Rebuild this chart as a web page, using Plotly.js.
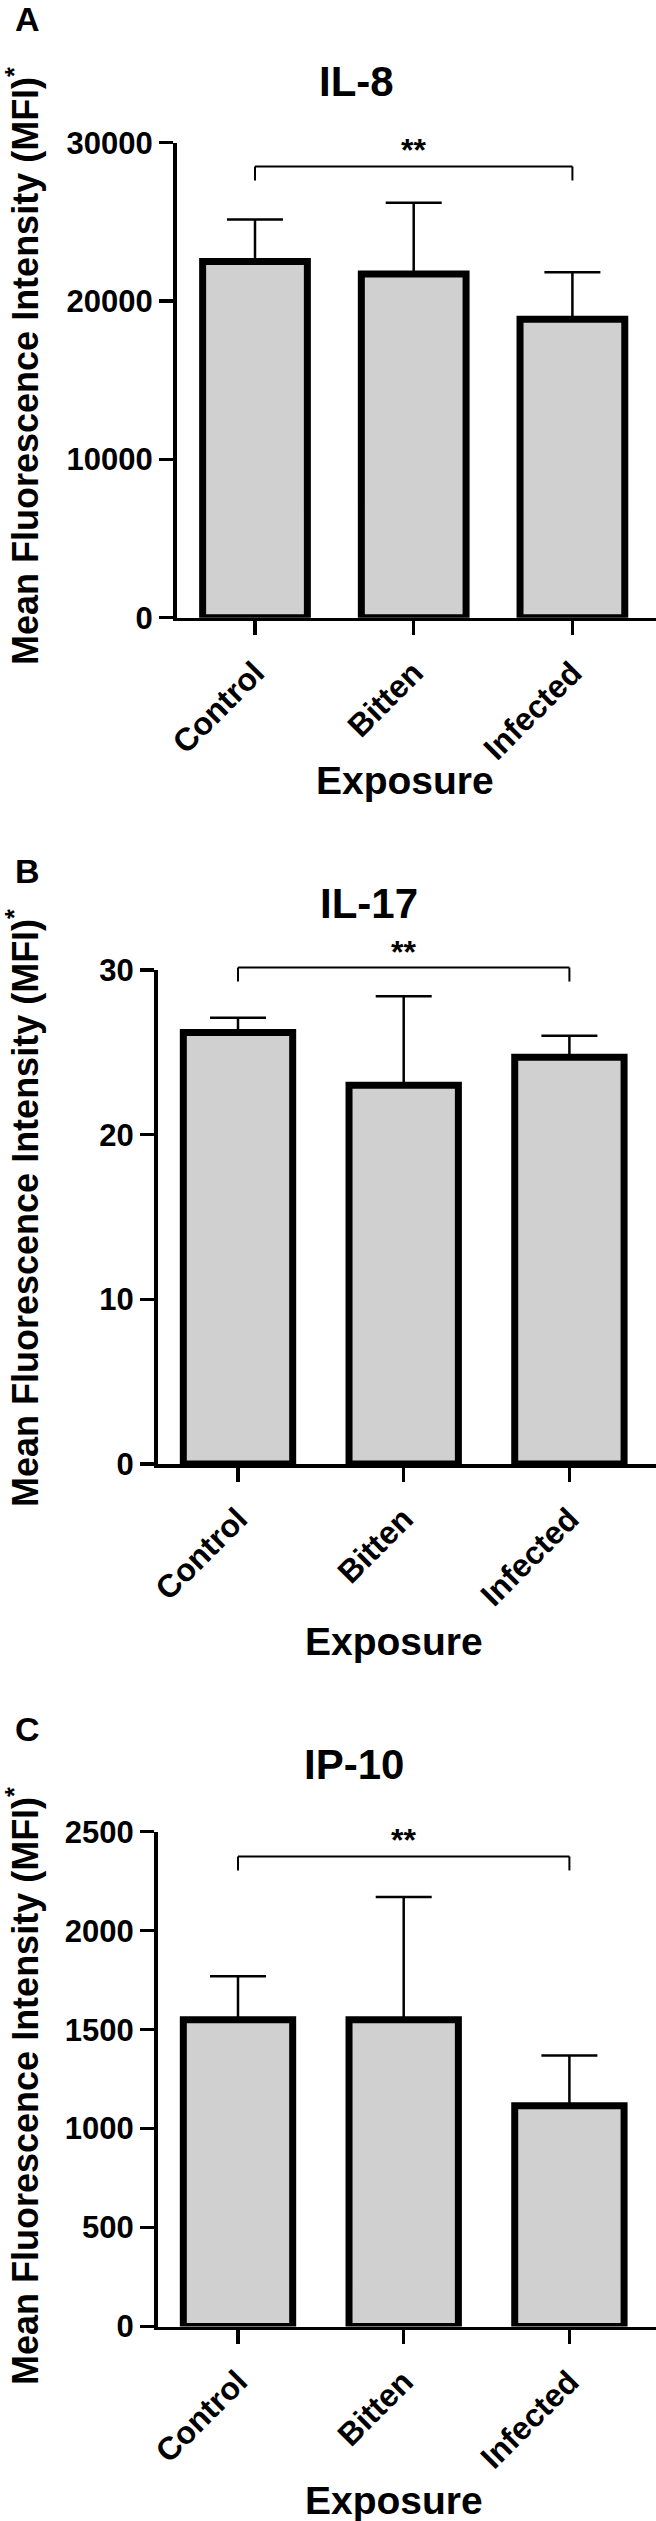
<!DOCTYPE html>
<html>
<head>
<meta charset="utf-8">
<script src="https://cdn.plot.ly/plotly-3.0.1.min.js"></script>
<style>
  body { margin: 0; background: white; }
  #plot { width: 656px; height: 2521px; }
</style>
</head>
<body>
<div id="plot"></div>
<script>
// values (mean + upper error)
const categories = ["Control", "Bitten", "Infected"];

const il8Mean = [22500, 21700, 18850];
const il8Err = [2650, 4500, 2970];

const il17Mean = [26.2, 23.0, 24.7];
const il17Err = [0.9, 5.4, 1.3];

const ip10Mean = [1550, 1550, 1115];
const ip10Err = [220, 620, 255];

const panelLetters = ["A", "B", "C"];
const panelTitles = ["IL-8", "IL-17", "IP-10"];
const yTicks = [
    [0, 10000, 20000, 30000],
    [0, 10, 20, 30],
    [0, 500, 1000, 1500, 2000, 2500]
];
const bracketLevel = [28500, 30.15, 2375];
const bracketText = "**";
const yTitle = "Mean Fluorescence Intensity (MFI)<sup>*</sup>";
const xTitle = "Exposure";

const W = 656, H = 2521;
const FONT = 'Arial, "Liberation Sans", sans-serif';

// pixel geometry of each panel
let panels = [
    { left: 176.5, top: 142.7, bottom: 617.7, c0: 255, step: 158.7, titleX: 356, titleY: 81, letterY: 19, expX: 405, expY: 781, yTitleY: 366 },
    { left: 157.5, top: 970, bottom: 1464, c0: 238, step: 165.7, titleX: 369, titleY: 903, letterY: 871, expX: 394, expY: 1642, yTitleY: 1208 },
    { left: 157.5, top: 1831.7, bottom: 2326.6, c0: 238, step: 165.7, titleX: 354, titleY: 1764, letterY: 1729, expX: 394, expY: 2500, yTitleY: 2086 }
];

let means = [il8Mean, il17Mean, ip10Mean];
let errs = [il8Err, il17Err, ip10Err];

function px(x) { return x / W; }
function py(y) { return 1 - y / H; }

let traces = [];
let layout = {
    width: W,
    height: H,
    margin: { l: 0, r: 0, t: 0, b: 0 },
    paper_bgcolor: "white",
    plot_bgcolor: "white",
    showlegend: false,
    bargap: 0.34,
    font: { family: FONT, color: "black" },
    shapes: [],
    annotations: []
};

panels.forEach((p, i) => {
    let s = i === 0 ? "" : String(i + 1);
    let top = yTicks[i][yTicks[i].length - 1];
    let dom = [py(p.bottom), py(p.top)];

    traces.push({
        type: "bar",
        x: categories,
        y: means[i],
        xaxis: "x" + s,
        yaxis: "y" + s,
        marker: { color: "#d0d0d0", line: { color: "black", width: 7 } },
        error_y: {
            type: "data",
            symmetric: false,
            array: errs[i],
            arrayminus: errs[i].map(() => 0),
            color: "black",
            thickness: 2.5,
            width: 28
        },
        hoverinfo: "none"
    });

    let r0 = -(p.c0 - p.left) / p.step;
    let r1 = r0 + (W - p.left) / p.step;

    layout["xaxis" + s] = {
        domain: [px(p.left), 1],
        anchor: "y" + s,
        type: "category",
        range: [r0, r1],
        showline: true, linecolor: "black", linewidth: 3.5,
        ticks: "outside", ticklen: 14, tickwidth: 3.5, tickcolor: "black",
        tickangle: -45,
        ticklabelstandoff: 6,
        tickfont: { family: FONT, size: 32, color: "black", weight: "bold" },
        showgrid: false, zeroline: false, fixedrange: true
    };
    layout["yaxis" + s] = {
        domain: dom,
        anchor: "x" + s,
        range: [0, top],
        tickvals: yTicks[i],
        tickformat: "d",
        showline: true, linecolor: "black", linewidth: 3.5,
        ticks: "outside", ticklen: 14, tickwidth: 3.5, tickcolor: "black",
        tickfont: { family: FONT, size: 31, color: "black", weight: "bold" },
        showgrid: false, zeroline: false, fixedrange: true
    };

    // significance bracket between Control and Infected
    let yb = dom[0] + bracketLevel[i] / top * (dom[1] - dom[0]);
    let tip = yb - 14 / H;
    let line = { color: "black", width: 2 };
    layout.shapes.push(
        { type: "line", xref: "x" + s, yref: "paper", x0: categories[0], x1: categories[2], y0: yb, y1: yb, line: line },
        { type: "line", xref: "x" + s, yref: "paper", x0: categories[0], x1: categories[0], y0: yb, y1: tip, line: line },
        { type: "line", xref: "x" + s, yref: "paper", x0: categories[2], x1: categories[2], y0: yb, y1: tip, line: line }
    );
    layout.annotations.push({
        xref: "x" + s, yref: "paper", x: categories[1], y: yb - 4 / H,
        xanchor: "center", yanchor: "bottom", showarrow: false,
        text: bracketText, font: { family: FONT, size: 32, color: "black", weight: "bold" }
    });

    // panel letter, title, axis titles
    layout.annotations.push(
        { xref: "paper", yref: "paper", x: px(27), y: py(p.letterY), xanchor: "center", yanchor: "middle", showarrow: false,
          text: panelLetters[i], font: { family: FONT, size: 34, color: "black", weight: "bold" } },
        { xref: "paper", yref: "paper", x: px(p.titleX), y: py(p.titleY), xanchor: "center", yanchor: "middle", showarrow: false,
          text: panelTitles[i], font: { family: FONT, size: 42, color: "black", weight: "bold" } },
        { xref: "paper", yref: "paper", x: px(p.expX), y: py(p.expY), xanchor: "center", yanchor: "middle", showarrow: false,
          text: xTitle, font: { family: FONT, size: 39, color: "black", weight: "bold" } },
        { xref: "paper", yref: "paper", x: px(23), y: py(p.yTitleY), xanchor: "center", yanchor: "middle", showarrow: false,
          textangle: -90, text: yTitle, font: { family: FONT, size: 36, color: "black", weight: "bold" } }
    );
});

Plotly.newPlot("plot", traces, layout, { staticPlot: true });
</script>
</body>
</html>
